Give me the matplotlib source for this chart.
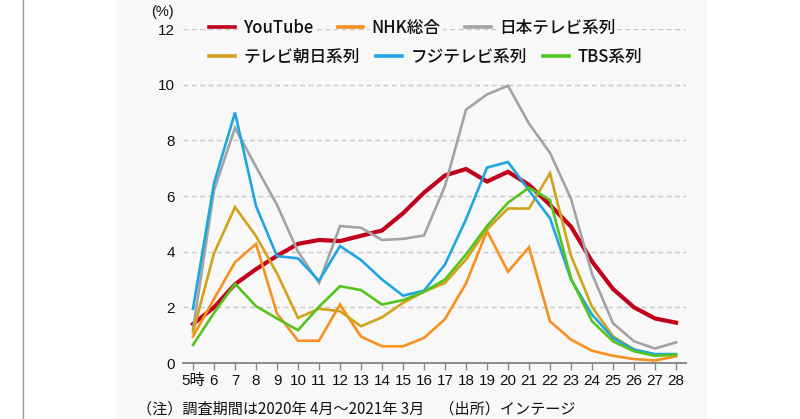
import matplotlib
matplotlib.use("Agg")
import matplotlib.pyplot as plt
from matplotlib.lines import Line2D
from matplotlib.patches import Rectangle

plt.rcParams['font.family'] = ['Liberation Sans', 'Noto Sans CJK JP', 'DejaVu Sans']

hours = list(range(5, 29))
hour_labels = ['5時'] + [str(h) for h in range(6, 29)]

youtube = [1.4, 2.0, 2.83, 3.37, 3.85, 4.28, 4.42, 4.38, 4.57, 4.76, 5.38, 6.12, 6.74, 6.97, 6.52, 6.87, 6.4, 5.68, 4.9, 3.65, 2.66, 2.0, 1.6, 1.45]
nhk = [0.95, 2.3, 3.62, 4.28, 1.78, 0.8, 0.8, 2.1, 0.95, 0.6, 0.6, 0.9, 1.58, 2.86, 4.74, 3.28, 4.16, 1.5, 0.84, 0.44, 0.26, 0.14, 0.09, 0.24]
ntv = [1.2, 6.2, 8.45, 7.05, 5.68, 4.0, 2.88, 4.92, 4.86, 4.42, 4.46, 4.58, 6.36, 9.1, 9.65, 9.96, 8.6, 7.55, 5.9, 3.2, 1.43, 0.78, 0.52, 0.74]
tva = [1.1, 3.94, 5.6, 4.56, 3.22, 1.62, 1.95, 1.86, 1.32, 1.64, 2.16, 2.56, 2.88, 3.72, 4.8, 5.55, 5.55, 6.82, 3.85, 2.02, 0.96, 0.48, 0.3, 0.28]
fuji = [1.95, 6.46, 9.0, 5.64, 3.84, 3.76, 2.95, 4.2, 3.7, 3.0, 2.42, 2.6, 3.54, 5.16, 7.02, 7.22, 6.2, 5.2, 3.0, 1.74, 0.9, 0.48, 0.32, 0.32]
tbs = [0.65, 1.8, 2.85, 2.04, 1.6, 1.18, 2.02, 2.76, 2.62, 2.1, 2.26, 2.56, 3.0, 3.9, 4.92, 5.76, 6.3, 5.86, 3.04, 1.5, 0.78, 0.42, 0.26, 0.3]

series_names = ['YouTube', 'NHK総合', '日本テレビ系列', 'テレビ朝日系列', 'フジテレビ系列', 'TBS系列']
series_vals = [youtube, nhk, ntv, tva, fuji, tbs]
colors = ['#c1001c', '#f7901e', '#a3a3a3', '#d1a21a', '#1fa6e0', '#55c41f']
widths = [3.0, 1.9, 1.9, 1.9, 1.9, 1.9]

W, H = 800, 419
fig = plt.figure(figsize=(8, 4.19), dpi=100)
fig.patch.set_facecolor('white')
panel_bg = '#f8f8f8'
fig.patches.append(Rectangle((116 / W, 0), (707 - 116) / W, 1, transform=fig.transFigure,
                             facecolor=panel_bg, edgecolor='none', zorder=-10))
fig.lines.append(Line2D([23 / W, 23 / W], [0, 1], transform=fig.transFigure, color='#9a9a9a', lw=1.0))

ax = fig.add_axes([183 / W, 1 - 363 / H, (686 - 183) / W, (363 - 29) / H])
ax.set_facecolor('none')
for name, vals, c, lw in zip(series_names, series_vals, colors, widths):
    ax.plot(hours, vals, color=c, lw=lw, label=name, solid_joinstyle='miter', zorder=3)

ax.set_xlim(5 - 10 / 21, 28 + 10 / 21)
ax.set_ylim(0, 12)
ax.set_yticks([0, 2, 4, 6, 8, 10, 12])
ax.set_xticks(hours)
ax.set_xticklabels(hour_labels)
for s in ['top', 'right', 'left']:
    ax.spines[s].set_visible(False)
ax.spines['bottom'].set_color('#8a8a8a')
ax.spines['bottom'].set_linewidth(1.4)
ax.tick_params(axis='x', length=5, width=1.0, color='#8a8a8a', labelsize=11, pad=3, labelcolor='#111111')
ax.tick_params(axis='y', length=0, labelsize=11, pad=6, labelcolor='#111111')
ax.yaxis.grid(True, linestyle=(0, (3.5, 2.5)), color='#c8c8c8', lw=1.0)
ax.set_axisbelow(True)
ax.get_ygridlines()[0].set_visible(False)

fig.text(151 / W, 1 - 12 / H, '(%)', fontsize=10.5, va='center', ha='left', color='#111111')

handles = ax.get_lines()
row_kw = dict(frameon=False, ncol=3, handlelength=1.55, handletextpad=0.5,
              borderpad=0, borderaxespad=0, loc='center left',
              prop=dict(family=['Noto Sans CJK JP', 'DejaVu Sans'], size=12, weight='medium'))
leg1 = fig.legend(handles[:3], series_names[:3], bbox_to_anchor=(209 / W, 1 - 28 / H),
                  columnspacing=1.45, **row_kw)
leg2 = fig.legend(handles[3:], series_names[3:], bbox_to_anchor=(209 / W, 1 - 57 / H),
                  columnspacing=1.0, **row_kw)
for leg in (leg1, leg2):
    for t in leg.get_texts():
        t.set_color('#111111')
        t.set_bbox(dict(facecolor=panel_bg, edgecolor='none', pad=1.5))
    for l in leg.get_lines():
        l.set_linewidth(2.6)

fig.text(137 / W, 1 - 409 / H, '（注）調査期間は2020年 4月～2021年 3月　（出所）インテージ',
         fontsize=10.9, va='center', ha='left', color='#111111',
         family=['Noto Sans CJK JP', 'DejaVu Sans'])

fig.savefig('out.png', dpi=100)
